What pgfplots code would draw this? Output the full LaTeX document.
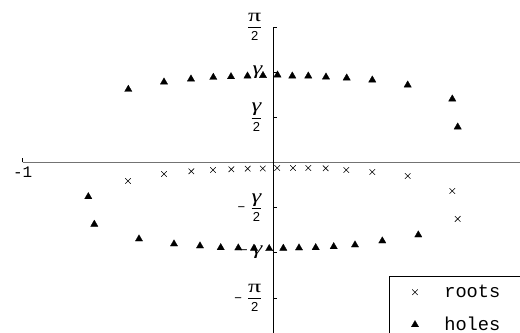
\documentclass[border=0pt]{standalone}
\usepackage{fontspec}
\setmainfont{Liberation Mono}
\newfontfamily\gkfont{Liberation Serif}
\newfontfamily\dgfont{Liberation Sans}
\usepackage{pgfplots}
\pgfplotsset{compat=1.18}

% gamma level
\def\gam{1.045}
\def\hgam{0.5225}
\def\hpi{1.5708}

\newcommand{\gkg}{\mbox{\scalebox{1.3}[1]{\fontsize{19}{19}\selectfont\gkfont\itshape γ}}}
\newcommand{\gkp}{\mbox{\scalebox{1.45}[1]{\fontsize{18}{18}\selectfont\gkfont π}}}
\newcommand{\dg}[1]{\mbox{\fontsize{13}{13}\selectfont\dgfont #1}}
\newcommand{\fr}[1]{$\displaystyle\frac{#1}{\dg{2}}$}
\newcommand{\mn}{\dg{−}\hspace{5pt}}

\pgfplotstableread{
x y
-0.5793 -0.2144
-0.4355 -0.1333
-0.3264 -0.1020
-0.2397 -0.0869
-0.1666 -0.0788
-0.1011 -0.0718
-0.0408 -0.0695
 0.0168 -0.0637
 0.0799 -0.0637
 0.1410 -0.0637
 0.2105 -0.0672
 0.2928 -0.0869
 0.3967 -0.1101
 0.5381 -0.1564
 0.7163 -0.3302
 0.7379 -0.6547
}\roots

\pgfplotstableread{
x y
-0.5781  0.8482
-0.4355  0.9328
-0.3277  0.9676
-0.2385  0.9873
-0.1678  0.9942
-0.1019  1.0023
-0.0400  1.0081
 0.0180  1.0139
 0.0771  1.0023
 0.1410  1.0023
 0.2117  0.9907
 0.2944  0.9791
 0.3967  0.9560
 0.5381  0.8980
 0.7163  0.7358
 0.7379  0.4114
-0.7379 -0.3963
-0.7139 -0.7161
-0.5354 -0.8864
-0.3955 -0.9444
-0.2917 -0.9676
-0.2089 -0.9873
-0.1386 -0.9907
-0.0759 -0.9942
-0.0152 -0.9988
 0.0412 -0.9942
 0.1039 -0.9907
 0.1706 -0.9873
 0.2425 -0.9757
 0.3276 -0.9560
 0.4367 -0.9096
 0.5805 -0.8401
}\holes

\begin{document}
\begin{tikzpicture}
\begin{axis}[
    x=250.3pt, y=86.26pt,
    xmin=-1, xmax=1, ymin=-1.98, ymax=\hpi,
    axis lines=middle,
    axis line style={-},
    x axis line style={black!55, line width=1.3pt},
    y axis line style={black, line width=0.9pt},
    clip=false,
    tick align=inside,
    major tick length=4pt,
    tick style={black, line width=0.7pt},
    xtick={-1},
    xticklabels={-1},
    xticklabel style={font=\fontsize{16}{18}\selectfont, anchor=north, yshift=-1pt},
    ytick={-\hpi,-\gam,-\hgam,\hgam,\gam,\hpi},
    yticklabels={
        \mn\fr{\gkp},
        \mn\gkg,
        \mn\fr{\gkg},
        \fr{\gkg},
        \gkg,
        \fr{\gkp}},
    yticklabel style={font=\fontsize{15}{17}\selectfont, anchor=east, xshift=-7pt},
    legend style={
        at={(axis cs:0.4634,-1.315)}, anchor=north west,
        draw=black, line width=0.6pt,
        font=\fontsize{18.7}{22}\selectfont,
        inner xsep=3pt, inner ysep=7pt,
        row sep=14pt,
        cells={anchor=west},
    },
    legend image code/.code={
        \path[draw=none, fill=none] (0pt,0pt) -- (50pt,0pt);
        \draw[#1] plot coordinates {(22.7pt,0pt)};
    },
]
\addplot[only marks, mark=x, mark size=3.9pt, line width=0.6pt] table {\roots};
\addlegendentry{roots\hspace*{30pt}}
\addplot[only marks, mark=triangle*, mark size=4.2pt, fill=black, draw=black, line width=0.3pt] table {\holes};
\addlegendentry{holes\hspace*{30pt}}

\coordinate (bbl) at (axis cs:-1.0907,-1.9766);
\coordinate (btr) at (axis cs:0.9868,1.8838);
\end{axis}
\pgfresetboundingbox
\path[use as bounding box] (bbl) rectangle (btr);
\end{tikzpicture}
\end{document}
